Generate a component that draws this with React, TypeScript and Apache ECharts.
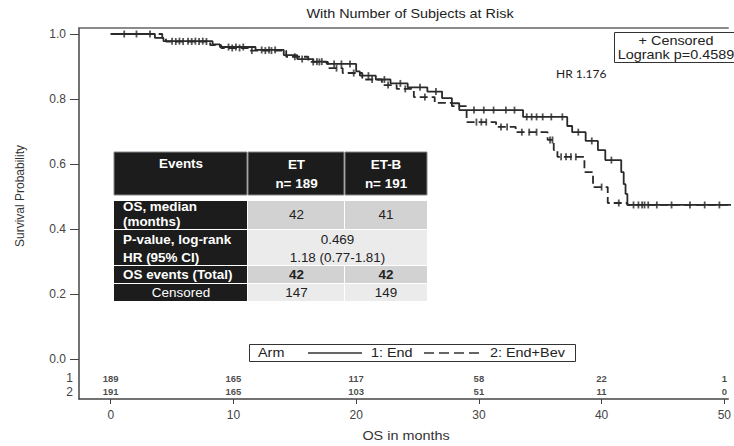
import React, { useEffect, useRef } from "react";
import * as echarts from "echarts";

// ---- Data ----
const arm1Times = [0, 3.6, 4.3, 8.3, 8.9, 11.8, 14.1, 15.2, 16.5, 17.6, 20.0, 20.3, 21.6, 22.8, 24.2, 25.8, 27.0, 27.8, 28.4, 33.6, 37.2, 37.6, 38.7, 39.7, 40.3, 41.6, 41.8, 41.95, 42.1, 51];
const arm1Surv = [1, 0.988, 0.978, 0.968, 0.96, 0.951, 0.935, 0.923, 0.915, 0.908, 0.885, 0.872, 0.86, 0.848, 0.836, 0.823, 0.803, 0.787, 0.766, 0.745, 0.717, 0.698, 0.671, 0.643, 0.612, 0.575, 0.538, 0.508, 0.474, 0.474];
const arm2Times = [0, 4.2, 4.5, 8.1, 9.0, 11.2, 14.3, 16.1, 17.7, 18.9, 20.5, 22.1, 23.3, 24.7, 26.4, 27.8, 29.0, 31.4, 33.0, 35.6, 36.1, 36.4, 38.6, 39.3, 40.5, 42.1, 51];
const arm2Surv = [1, 0.985, 0.977, 0.966, 0.957, 0.949, 0.93, 0.914, 0.895, 0.88, 0.86, 0.843, 0.831, 0.806, 0.788, 0.778, 0.729, 0.714, 0.698, 0.674, 0.643, 0.622, 0.575, 0.529, 0.48, 0.474, 0.474];
const arm1Censor = [1.1, 3.2, 5.0, 5.6, 6.3, 6.9, 7.5, 9.6, 10.2, 10.8, 12.3, 12.9, 13.4, 15.6, 16.8, 17.2, 18.2, 18.8, 19.5, 21.0, 22.3, 23.6, 25.2, 26.5, 29.6, 30.4, 31.2, 32.2, 32.9, 33.9, 34.3, 34.7, 35.2, 35.9, 36.8, 38.1, 39.2, 40.8, 42.6, 43.0, 43.3, 43.5, 43.8, 44.5, 45.7, 47.2, 48.4, 49.6];
const arm2Censor = [2.1, 5.3, 5.9, 6.6, 7.2, 7.8, 9.9, 10.5, 11.5, 12.6, 13.1, 15.0, 16.5, 17.0, 18.4, 19.8, 21.3, 22.6, 24.0, 25.6, 29.8, 30.2, 30.6, 31.8, 32.3, 33.5, 34.1, 34.7, 35.8, 36.0, 36.7, 37.1, 37.5, 37.9, 40.0, 41.4];
const riskTimes = [0, 10, 20, 30, 40, 50];
const riskArm1 = [189, 165, 117, 58, 22, 1];
const riskArm2 = [191, 165, 103, 51, 11, 0];
const riskRowY = [-0.0585, -0.1015];
const yTicks = [0, 0.2, 0.4, 0.6, 0.8, 1.0];
const xTicks = [0, 10, 20, 30, 40, 50];

const tableHeader = ["Events", "ET", "n= 189", "ET-B", "n= 191"];
const tableRowLabels = ["OS, median", "(months)", "P-value, log-rank", "HR (95% CI)", "OS events (Total)", "Censored"];
const medianOS = ["42", "41"];
const pValue = "0.469";
const hrCI = "1.18 (0.77-1.81)";
const osEvents = ["42", "42"];
const censoredN = ["147", "149"];

const FONT = "'Liberation Sans', Arial, sans-serif";

function stepValue(times: number[], surv: number[], t: number) {
  let v = surv[0];
  for (let i = 0; i < times.length; i++) {
    if (times[i] <= t) v = surv[i];
  }
  return v;
}

function txt(x: number, y: number, text: string, o: any = {}) {
  return {
    type: "text",
    x,
    y,
    scaleX: o.scaleX ?? 1.2,
    rotation: o.rotation ?? 0,
    z: 100,
    style: {
      text,
      x: 0,
      y: 0,
      align: o.align ?? "left",
      verticalAlign: "middle",
      fill: o.fill ?? "#222",
      fontSize: o.fontSize ?? 12,
      fontFamily: o.fontFamily ?? FONT,
      fontWeight: o.fontWeight ?? "normal",
    },
  };
}

function rect(x: number, y: number, w: number, h: number, fill: string, stroke?: string) {
  return {
    type: "rect",
    z: 99,
    shape: { x, y, width: w, height: h },
    style: { fill, stroke: stroke ?? null, lineWidth: 1 },
  };
}

export default function App() {
  const ref = useRef<HTMLDivElement>(null);
  useEffect(() => {
    if (!ref.current) return;
    const chart = echarts.init(ref.current, null, { renderer: "svg" });

    const colX = [114, 248, 345, 427];
    const tS = 1.12;
    const dark = "#1c1c1c";
    const g1 = "#d2d2d2";
    const g2 = "#ebebeb";
    const c2 = (colX[1] + colX[2]) / 2;
    const c3 = (colX[2] + colX[3]) / 2;
    const c23 = (colX[1] + colX[3]) / 2;
    const L = 123;

    const graphic: any[] = [
      txt(410, 14, "With Number of Subjects at Risk", { align: "center", scaleX: 1.2 }),
      {
        type: "text",
        x: 20,
        y: 196,
        rotation: Math.PI / 2,
        z: 100,
        style: { text: "Survival Probability", x: 0, y: 0, align: "center", verticalAlign: "middle", fill: "#333", fontSize: 12, fontFamily: FONT },
      },
      txt(406, 436, "OS in months", { align: "center", fill: "#333" }),
      rect(614.5, 32.5, 130, 30, "#fff", "#333"),
      txt(676, 41, "+ Censored", { align: "center" }),
      txt(676, 55, "Logrank p=0.4589", { align: "center" }),
      txt(556, 73, "HR 1.176", { scaleX: 1, fontFamily: "Lato, 'Open Sans', sans-serif", fontSize: 12 }),
      txt(73, 378, "1", { align: "right", scaleX: 1, fill: "#444" }),
      txt(73, 392, "2", { align: "right", scaleX: 1, fill: "#444" }),
      rect(249.5, 344.5, 326, 17, "#fff", "#333"),
      txt(258, 353, "Arm"),
      { type: "line", z: 100, shape: { x1: 308, y1: 353, x2: 362, y2: 353 }, style: { stroke: "#333", lineWidth: 1.4 } },
      txt(371, 353, "1: End"),
      { type: "line", z: 100, shape: { x1: 424, y1: 353, x2: 484, y2: 353 }, style: { stroke: "#333", lineWidth: 1.4, lineDash: [10, 5] } },
      txt(490, 353, "2: End+Bev"),
      rect(colX[0], 152, colX[1] - colX[0] - 1, 43, dark, "#888"),
      rect(colX[1], 152, colX[2] - colX[1] - 1, 43, dark, "#888"),
      rect(colX[2], 152, colX[3] - colX[2], 43, dark, "#888"),
      txt((colX[0] + colX[1]) / 2, 164, tableHeader[0], { align: "center", fill: "#fff", fontWeight: "bold", scaleX: tS }),
      txt(c2, 165, tableHeader[1], { align: "center", fill: "#fff", fontWeight: "bold", scaleX: tS }),
      txt(c2, 184, tableHeader[2], { align: "center", fill: "#fff", fontWeight: "bold", scaleX: tS }),
      txt(c3, 165, tableHeader[3], { align: "center", fill: "#fff", fontWeight: "bold", scaleX: tS }),
      txt(c3, 184, tableHeader[4], { align: "center", fill: "#fff", fontWeight: "bold", scaleX: tS }),
      rect(colX[0], 201, colX[1] - colX[0] - 1, 28, dark),
      rect(colX[1], 201, colX[2] - colX[1] - 1, 28, g1),
      rect(colX[2], 201, colX[3] - colX[2], 28, g1),
      txt(L, 207, tableRowLabels[0], { fill: "#fff", fontWeight: "bold", scaleX: tS }),
      txt(L, 222, tableRowLabels[1], { fill: "#fff", fontWeight: "bold", scaleX: tS }),
      txt(c2, 215, medianOS[0], { align: "center", scaleX: tS }),
      txt(c3, 215, medianOS[1], { align: "center", scaleX: tS }),
      rect(colX[0], 230, colX[1] - colX[0] - 1, 35, dark),
      rect(colX[1], 230, colX[3] - colX[1], 35, g2),
      txt(L, 240, tableRowLabels[2], { fill: "#fff", fontWeight: "bold", scaleX: tS }),
      txt(L, 258, tableRowLabels[3], { fill: "#fff", fontWeight: "bold", scaleX: tS }),
      txt(c23, 240, pValue, { align: "center", scaleX: tS }),
      txt(c23, 258, hrCI, { align: "center", scaleX: tS }),
      rect(colX[0], 266, colX[1] - colX[0] - 1, 17, dark),
      rect(colX[1], 266, colX[2] - colX[1] - 1, 17, g1),
      rect(colX[2], 266, colX[3] - colX[2], 17, g1),
      txt(L, 275, tableRowLabels[4], { fill: "#fff", fontWeight: "bold", scaleX: tS }),
      txt(c2, 275, osEvents[0], { align: "center", fontWeight: "bold", scaleX: tS }),
      txt(c3, 275, osEvents[1], { align: "center", fontWeight: "bold", scaleX: tS }),
      rect(colX[0], 284, colX[1] - colX[0] - 1, 17, dark),
      rect(colX[1], 284, colX[2] - colX[1] - 1, 17, g2),
      rect(colX[2], 284, colX[3] - colX[2], 17, g2),
      txt((colX[0] + colX[1]) / 2, 293, tableRowLabels[5], { align: "center", fill: "#fff", scaleX: tS }),
      txt(c2, 293, censoredN[0], { align: "center", scaleX: tS }),
      txt(c3, 293, censoredN[1], { align: "center", scaleX: tS }),
    ];

    const riskLabel = {
      show: true,
      position: "inside",
      formatter: (p: any) => String(p.value[2]),
      fontSize: 9.5,
      fontWeight: "bold",
      color: "#1a1a1a",
      fontFamily: FONT,
    };

    chart.setOption({
      animation: false,
      backgroundColor: "#fff",
      grid: { left: 79, right: 0, top: 28, bottom: 47 },
      xAxis: [
        {
          type: "value",
          min: -2.585,
          max: 50.32,
          axisLine: { show: true, onZero: false, lineStyle: { color: "#444", width: 1.5 } },
          axisTick: { show: true, customValues: xTicks, length: 5, lineStyle: { color: "#444" } },
          axisLabel: { customValues: xTicks, margin: 10, fontSize: 12, color: "#444", fontFamily: FONT },
          splitLine: { show: false },
        },
        {
          type: "value",
          position: "top",
          min: -2.585,
          max: 50.32,
          axisLine: { show: true, onZero: false, lineStyle: { color: "#666", width: 1.5 } },
          axisTick: { show: false },
          axisLabel: { show: false },
          splitLine: { show: false },
        },
      ],
      yAxis: {
        type: "value",
        min: -0.1231,
        max: 1.0185,
        axisLine: { show: true, onZero: false, lineStyle: { color: "#444", width: 1.5 } },
        axisTick: { show: true, customValues: yTicks, length: 9, lineStyle: { color: "#444" } },
        axisLabel: {
          customValues: yTicks,
          margin: 13,
          fontSize: 12,
          color: "#444",
          fontFamily: FONT,
          formatter: (v: number) => v.toFixed(1),
        },
        splitLine: { show: false },
      },
      graphic,
      series: [
        {
          type: "line",
          step: "end",
          symbol: "none",
          data: arm1Times.map((t, i) => [t, arm1Surv[i]]),
          lineStyle: { color: "#2a2a2a", width: 1.8 },
          z: 3,
        },
        {
          type: "line",
          step: "end",
          symbol: "none",
          data: arm2Times.map((t, i) => [t, arm2Surv[i]]),
          lineStyle: { color: "#2a2a2a", width: 1.8, type: [8, 4] },
          z: 3,
        },
        {
          type: "scatter",
          symbol: "rect",
          symbolSize: [1.8, 7],
          data: arm1Censor.map((t) => [t, stepValue(arm1Times, arm1Surv, t)]),
          itemStyle: { color: "#2a2a2a" },
          z: 4,
        },
        {
          type: "scatter",
          symbol: "rect",
          symbolSize: [1.8, 7],
          data: arm2Censor.map((t) => [t, stepValue(arm2Times, arm2Surv, t)]),
          itemStyle: { color: "#2a2a2a" },
          z: 4,
        },
        {
          type: "scatter",
          symbolSize: 1,
          itemStyle: { color: "transparent" },
          data: riskTimes.map((t, i) => [t, riskRowY[0], riskArm1[i]]),
          label: riskLabel,
          clip: false,
        },
        {
          type: "scatter",
          symbolSize: 1,
          itemStyle: { color: "transparent" },
          data: riskTimes.map((t, i) => [t, riskRowY[1], riskArm2[i]]),
          label: riskLabel,
          clip: false,
        },
      ],
    });
    return () => chart.dispose();
  }, []);
  return <div ref={ref} style={{ position: "fixed", left: 0, top: 0, width: 734, height: 446 }} />;
}
